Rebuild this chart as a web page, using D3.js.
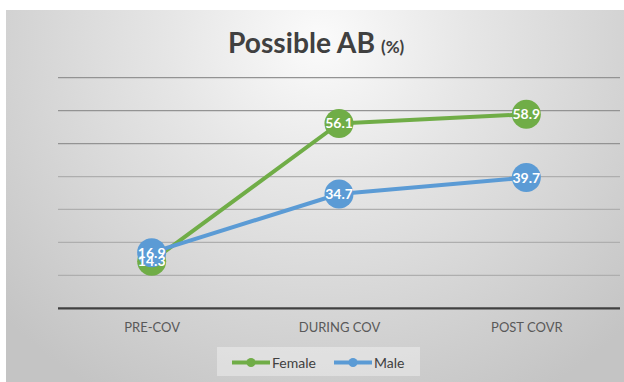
<!DOCTYPE html>
<html><head><meta charset="utf-8">
<script src="https://cdn.jsdelivr.net/npm/d3@7"></script>
<style>
html,body{margin:0;padding:0;background:#fff;}
svg{display:block;font-family:Lato,"Open Sans",sans-serif;}
</style></head>
<body>
<svg id="c" width="624" height="382"></svg>
<script>
const categories = ["PRE-COV", "DURING COV", "POST COVR"];
const femaleValues = [14.3, 56.1, 58.9];
const maleValues = [16.9, 34.7, 39.7];
const seriesNames = ["Female", "Male"];
const yTicks = [0, 10, 20, 30, 40, 50, 60, 70];

const colors = {Female: "#70ad47", Male: "#5b9bd5"};
const series = [
  {name: seriesNames[0], values: femaleValues},
  {name: seriesNames[1], values: maleValues}
];

const svg = d3.select("#c");
const defs = svg.append("defs");
const rg = defs.append("radialGradient").attr("id", "bg")
  .attr("gradientUnits", "userSpaceOnUse")
  .attr("cx", 320).attr("cy", 40).attr("r", 430)
  .attr("gradientTransform", "translate(320,40) scale(1,0.95) translate(-320,-40)");
rg.append("stop").attr("offset", "0%").attr("stop-color", "#fbfbfb");
rg.append("stop").attr("offset", "35%").attr("stop-color", "#e6e6e6");
rg.append("stop").attr("offset", "100%").attr("stop-color", "#c4c4c4");

svg.append("rect").attr("x", 6).attr("y", 10).attr("width", 618).attr("height", 372)
  .attr("fill", "url(#bg)");

const x = d3.scalePoint().domain(categories).range([58, 620]).padding(0.5);
const y = d3.scaleLinear().domain([0, 70]).range([308.3, 77.7]);

// gridlines
svg.append("g").selectAll("line").data(yTicks.filter(d => d > 0)).join("line")
  .attr("x1", 58).attr("x2", 620)
  .attr("y1", d => y(d)).attr("y2", d => y(d))
  .attr("stroke", d => d >= 50 ? "#939393" : "#aeaeae").attr("stroke-width", 1.3);

// x axis
const xAxis = d3.axisBottom(x).tickSize(0).tickPadding(14);
const gx = svg.append("g").attr("transform", `translate(0,${y(0)})`).call(xAxis);
gx.select(".domain").attr("stroke", "#404040").attr("stroke-width", 2.2)
  .attr("d", "M58,0H620");
gx.selectAll("text").attr("fill", "#595959").attr("font-size", 13)
  .attr("font-family", "Lato, 'Open Sans', sans-serif");

// title
const title = svg.append("text").attr("x", 228).attr("y", 53)
  .attr("fill", "#404040").attr("font-weight", "bold");
title.append("tspan").attr("font-size", 28).text("Possible AB")
  .attr("textLength", 147).attr("lengthAdjust", "spacingAndGlyphs");
title.append("tspan").attr("font-size", 17).attr("dx", 6).text("(%)");

// lines
const line = d3.line().x((d, i) => x(categories[i])).y(d => y(d));
svg.append("g").selectAll("path").data(series).join("path")
  .attr("d", d => line(d.values))
  .attr("fill", "none").attr("stroke", d => colors[d.name])
  .attr("stroke-width", 4).attr("stroke-linejoin", "round");

// markers
series.forEach(s => {
  svg.append("g").selectAll("circle").data(s.values).join("circle")
    .attr("cx", (d, i) => x(categories[i])).attr("cy", d => y(d)).attr("r", 14.5)
    .attr("fill", colors[s.name]);
});

// labels
series.forEach(s => {
  svg.append("g").selectAll("text").data(s.values).join("text")
    .attr("x", (d, i) => x(categories[i])).attr("y", d => y(d) + 5)
    .attr("text-anchor", "middle").attr("fill", "#fff")
    .attr("font-weight", "bold").attr("font-size", 14)
    .text(d => d.toFixed(1));
});

// legend
const lg = svg.append("g");
lg.append("rect").attr("x", 217).attr("y", 347).attr("width", 203).attr("height", 29)
  .attr("fill", "#ffffff").attr("fill-opacity", 0.35);
const legendItems = [
  {name: seriesNames[0], x0: 232},
  {name: seriesNames[1], x0: 334}
];
legendItems.forEach(it => {
  const g = lg.append("g");
  g.append("line").attr("x1", it.x0).attr("x2", it.x0 + 38).attr("y1", 362.5).attr("y2", 362.5)
    .attr("stroke", colors[it.name]).attr("stroke-width", 4);
  g.append("circle").attr("cx", it.x0 + 19).attr("cy", 362.5).attr("r", 4.5).attr("fill", colors[it.name]);
  g.append("text").attr("x", it.x0 + 40).attr("y", 367.5).attr("font-size", 14)
    .attr("fill", "#404040").text(it.name);
});
</script>
</body></html>
